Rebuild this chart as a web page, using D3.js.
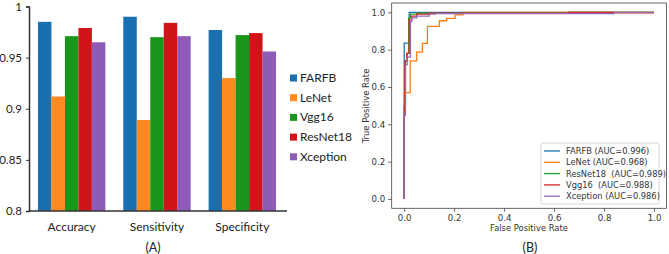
<!DOCTYPE html>
<html>
<head>
<meta charset="utf-8">
<script src="https://cdn.jsdelivr.net/npm/d3@7"></script>
<style>
  body { margin: 0; background: #fff; }
  svg { display: block; }
  .lab { font-family: Lato, "Open Sans", sans-serif; fill: #222; }
  .mpl { font-family: "DejaVu Sans", sans-serif; fill: #333; }
</style>
</head>
<body>
<div id="chart"></div>
<script>
// ---- bar chart data (A)
const categories = ['Accuracy', 'Sensitivity', 'Specificity'];
const models = ['FARFB', 'LeNet', 'Vgg16', 'ResNet18', 'Xception'];
const barColors = ['#1a6faf', '#ff8a1f', '#1a961a', '#d01419', '#8e5bb6'];
const accuracy = [0.985, 0.912, 0.971, 0.979, 0.965];
const sensitivity = [0.990, 0.889, 0.970, 0.984, 0.971];
const specificity = [0.977, 0.930, 0.972, 0.974, 0.956];
const yTicksA = [0.8, 0.85, 0.9, 0.95, 1];

// ---- ROC data (B)
const rocNames = ['FARFB (AUC=0.996)', 'LeNet (AUC=0.968)', 'ResNet18  (AUC=0.989)', 'Vgg16  (AUC=0.988)', 'Xception (AUC=0.986)'];
const rocColors = ['#1f77b4', '#ff7f0e', '#2ca02c', '#d62728', '#9467bd'];
const rocFARFB = [[0,0],[0,0.835],[0.02,0.835],[0.02,1],[1,1]];
const rocLeNet = [[0,0],[0,0.57],[0.024,0.57],[0.024,0.74],[0.05,0.74],[0.05,0.787],[0.073,0.787],[0.073,0.834],
  [0.093,0.834],[0.093,0.925],[0.141,0.925],[0.141,0.955],[0.17,0.955],[0.17,0.968],[0.204,0.968],[0.204,0.986],
  [0.235,0.986],[0.235,1],[1,1]];
const rocResNet = [[0,0],[0,0.5],[0.005,0.5],[0.005,0.74],[0.012,0.74],[0.012,0.78],[0.018,0.78],[0.018,0.97],
  [0.025,0.97],[0.025,0.99],[0.05,0.99],[0.05,0.995],[0.66,0.995],[0.66,1],[1,1]];
const rocVgg = [[0,0],[0,0.45],[0.003,0.45],[0.003,0.74],[0.01,0.74],[0.01,0.78],[0.02,0.78],[0.02,0.96],
  [0.03,0.96],[0.03,0.98],[0.05,0.98],[0.05,0.99],[0.1,0.99],[0.1,0.995],[0.66,0.995],[0.66,1],[0.84,1],[0.84,0.997],[1,0.997]];
const rocXception = [[0,0],[0,0.45],[0.005,0.45],[0.005,0.72],[0.012,0.72],[0.012,0.76],[0.025,0.76],[0.025,0.95],
  [0.03,0.95],[0.03,0.97],[0.05,0.97],[0.05,0.98],[0.1,0.98],[0.1,0.99],[0.125,0.99],[0.125,0.993],[0.84,0.993],[0.84,1],[1,1]];
const rocTicks = [0, 0.2, 0.4, 0.6, 0.8, 1.0];

const width = 669, height = 254;
const svg = d3.select('#chart').append('svg').attr('width', width).attr('height', height);

// ================= (A) grouped bars
const values = [accuracy, sensitivity, specificity];
const x0 = d3.scaleBand().domain(categories).range([29, 285]).paddingInner(0.21).paddingOuter(0.105);
const x1 = d3.scaleBand().domain(models).range([0, x0.bandwidth()]);
const yA = d3.scaleLinear().domain([0.8, 1]).range([211, 6.5]);

const gA = svg.append('g');
categories.forEach((c, ci) => {
  gA.append('g')
    .attr('transform', 'translate(' + x0(c) + ',0)')
    .selectAll('rect')
    .data(values[ci])
    .join('rect')
    .attr('x', (d, i) => x1(models[i]))
    .attr('y', d => yA(d))
    .attr('width', x1.bandwidth())
    .attr('height', d => yA(0.8) - yA(d))
    .attr('fill', (d, i) => barColors[i]);
});

const yAxisA = gA.append('g')
  .attr('transform', 'translate(29,0)')
  .call(d3.axisLeft(yA).tickValues(yTicksA).tickFormat(d => d3.format('')(+d.toFixed(2))).tickSize(3).tickPadding(4));
yAxisA.select('.domain').attr('stroke', '#333').attr('stroke-width', 1.5);
yAxisA.selectAll('.tick line').attr('stroke', '#333');
yAxisA.selectAll('text').attr('class', 'lab').attr('font-size', 11.5).style('fill', '#222');

const xAxisA = gA.append('g')
  .attr('transform', 'translate(0,211)')
  .call(d3.axisBottom(x0).tickSize(0).tickPadding(11));
xAxisA.select('.domain').attr('d', 'M29,0H287').attr('stroke', '#333').attr('stroke-width', 1.5);
xAxisA.selectAll('text').attr('class', 'lab').attr('font-size', 12).style('fill', '#222');

gA.append('text').attr('class', 'lab').attr('x', 153).attr('y', 252)
  .attr('text-anchor', 'middle').attr('font-size', 12.5).text('(A)');

const legA = gA.append('g').selectAll('g').data(models).join('g')
  .attr('transform', (d, i) => 'translate(290,' + (78 + i * 19.7) + ')');
legA.append('rect').attr('x', 0).attr('y', -3.5).attr('width', 7).attr('height', 7)
  .attr('fill', (d, i) => barColors[i]);
legA.append('text').attr('class', 'lab').attr('x', 10).attr('y', 4).attr('font-size', 12).text(d => d);

// ================= (B) ROC curves
const rocData = [rocFARFB, rocLeNet, rocResNet, rocVgg, rocXception];
const xB = d3.scaleLinear().domain([-0.05, 1.05]).range([391.7, 666.5]);
const yB = d3.scaleLinear().domain([-0.05, 1.05]).range([208.3, 3]);
const gB = svg.append('g');

const line = d3.line().x(d => xB(d[0])).y(d => yB(d[1]));
gB.selectAll('path.roc').data(rocData).join('path')
  .attr('class', 'roc')
  .attr('d', d => line(d))
  .attr('fill', 'none')
  .attr('stroke', (d, i) => rocColors[i])
  .attr('stroke-width', 1.3);

gB.append('rect').attr('x', xB(-0.05)).attr('y', yB(1.05))
  .attr('width', xB(1.05) - xB(-0.05)).attr('height', yB(-0.05) - yB(1.05))
  .attr('fill', 'none').attr('stroke', '#444').attr('stroke-width', 0.8);

const xAxisB = gB.append('g').attr('transform', 'translate(0,' + yB(-0.05) + ')')
  .call(d3.axisBottom(xB).tickValues(rocTicks).tickFormat(d3.format('.1f')).tickSize(3.5).tickPadding(3));
const yAxisB = gB.append('g').attr('transform', 'translate(' + xB(-0.05) + ',0)')
  .call(d3.axisLeft(yB).tickValues(rocTicks).tickFormat(d3.format('.1f')).tickSize(3.5).tickPadding(3));
[xAxisB, yAxisB].forEach(a => {
  a.select('.domain').remove();
  a.selectAll('.tick line').attr('stroke', '#444').attr('stroke-width', 0.8);
  a.selectAll('text').attr('class', 'mpl').attr('font-size', 8.6).style('fill', '#333');
});

gB.append('text').attr('class', 'mpl').attr('x', 529).attr('y', 231)
  .attr('text-anchor', 'middle').attr('font-size', 8.4).text('False Positive Rate');
gB.append('text').attr('class', 'mpl')
  .attr('transform', 'translate(369,106) rotate(-90)')
  .attr('text-anchor', 'middle').attr('font-size', 8.4).text('True Positive Rate');
gB.append('text').attr('class', 'lab').attr('x', 530).attr('y', 252)
  .attr('text-anchor', 'middle').attr('font-size', 12.5).text('(B)');

const legB = gB.append('g');
legB.append('rect').attr('x', 541).attr('y', 143).attr('width', 118).attr('height', 61)
  .attr('rx', 2).attr('fill', '#fff').attr('stroke', '#ccc').attr('stroke-width', 0.8);
const legBItems = legB.selectAll('g').data(rocNames).join('g')
  .attr('transform', (d, i) => 'translate(0,' + (151 + i * 11.3) + ')');
legBItems.append('line').attr('x1', 544).attr('x2', 560).attr('y1', 0).attr('y2', 0)
  .attr('stroke', (d, i) => rocColors[i]).attr('stroke-width', 1.3);
legBItems.append('text').attr('class', 'mpl').attr('x', 566).attr('y', 3)
  .attr('font-size', 8.3).style('white-space', 'pre').text(d => d);
</script>
</body>
</html>
